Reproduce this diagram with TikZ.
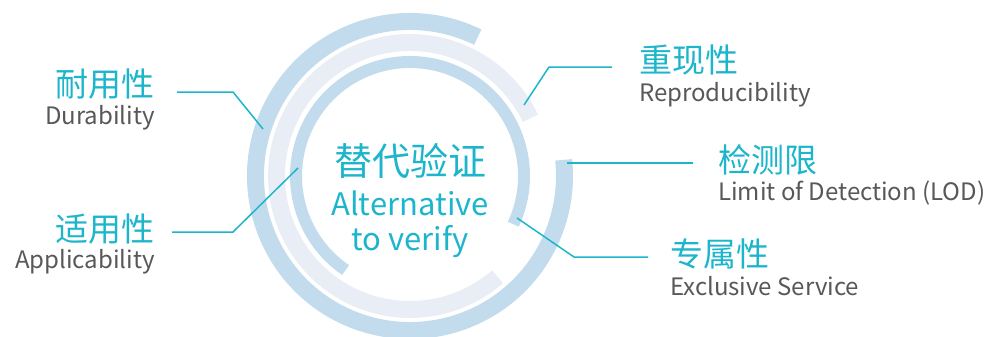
\documentclass[tikz,border=0pt]{standalone}
\usepackage{fontspec}
\setmainfont{Noto Sans CJK SC}
\definecolor{ringblue}{HTML}{C2DCEE}
\definecolor{ringlight}{HTML}{E9EEF6}
\definecolor{linecyan}{HTML}{1DB5CB}
\definecolor{txtcyan}{HTML}{1DB5CB}
\definecolor{txtgray}{HTML}{585858}
\begin{document}
\begin{tikzpicture}[x=1pt,y=1pt,
  bandA/.style={draw=ringblue, line width=17pt},
  bandB/.style={draw=ringlight, line width=17pt},
  bandC/.style={draw=ringblue, line width=12pt},
  conn/.style={draw=linecyan, line width=1.5pt},
  cn/.style={text=txtcyan, inner sep=0pt, font=\fontsize{33}{33}\selectfont},
  en/.style={text=txtgray, inner sep=0pt, font=\fontsize{24}{24}\selectfont},
  cncenter/.style={text=txtcyan, inner sep=0pt, font=\fontsize{38}{38}\selectfont},
  encenter/.style={text=txtcyan, inner sep=0pt, font=\fontsize{31}{31}\selectfont}]
\useasboundingbox (0,-337) rectangle (987,0);
\coordinate (C) at (410,-176);
% rings
\draw[bandA] ([shift={(64:154.5pt)}]C) arc[start angle=64, end angle=366, radius=154.5pt];
\draw[bandB] ([shift={(25.6:133.5pt)}]C) arc[start angle=25.6, end angle=311, radius=133.5pt];
\draw[bandC] ([shift={(-25:114pt)}]C) arc[start angle=-25, end angle=235.6, radius=114pt];
% center text
\node[cncenter, anchor=base] (title) at (410,-175) {替代验证};
\node[encenter, anchor=base] (alt) at (410,-215) {Alternative};
\node[encenter, anchor=base] (tov) at (410,-250) {to verify};
% labels left
\node[cn, anchor=base east] (durcn) at (155,-96) {耐用性};
\node[en, anchor=base east] (duren) at (155,-124) {Durability};
\node[cn, anchor=base east] (appcn) at (155,-241) {适用性};
\node[en, anchor=base east] (appen) at (155,-268) {Applicability};
% labels right
\node[cn, anchor=base west] (repcn) at (639,-73) {重现性};
\node[en, anchor=base west] (repen) at (639,-101) {Reproducibility};
\node[cn, anchor=base west] (lodcn) at (718,-172) {检测限};
\node[en, anchor=base west] (loden) at (718,-200) {Limit of Detection (LOD)};
\node[cn, anchor=base west] (exccn) at (670,-266) {专属性};
\node[en, anchor=base west] (excen) at (670,-295) {Exclusive Service};
% connector points
\coordinate (d1) at (177,-92);  \coordinate (d2) at (233,-92);  \coordinate (d3) at (263,-129);
\coordinate (a1) at (172,-232); \coordinate (a2) at (233,-232); \coordinate (a3) at (298,-168);
\coordinate (r1) at (612,-67);  \coordinate (r2) at (549,-67);  \coordinate (r3) at (524,-105);
\coordinate (l1) at (693,-163); \coordinate (l2) at (567,-163);
\coordinate (e1) at (648,-257); \coordinate (e2) at (574,-257); \coordinate (e3) at (517,-218);
\draw[conn] (d1) -- (d2) -- (d3);
\draw[conn] (a1) -- (a2) -- (a3);
\draw[conn] (r1) -- (r2) -- (r3);
\draw[conn] (l1) -- (l2);
\draw[conn] (e1) -- (e2) -- (e3);
\end{tikzpicture}
\end{document}
